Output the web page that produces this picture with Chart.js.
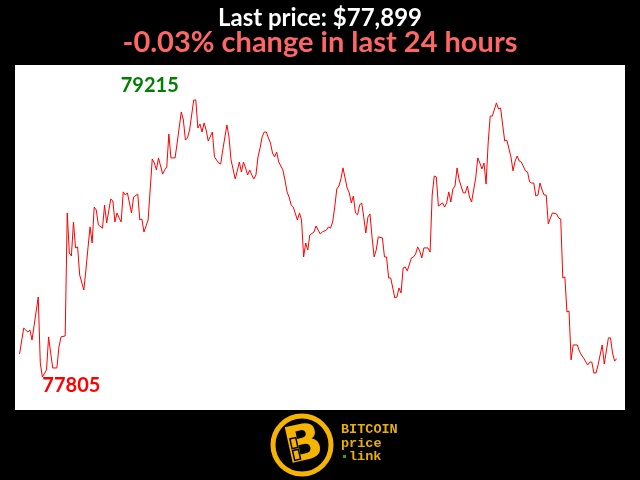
<!DOCTYPE html>
<html lang="en">
<head>
    <meta charset="UTF-8">
    <title>Bitcoin Price 24h</title>
    <script src="https://cdn.jsdelivr.net/npm/chart.js"></script>
    <style>
        body { margin: 0; background: #000; }
        canvas { display: block; }
    </style>
</head>
<body>
    <canvas id="priceChart" width="640" height="480"></canvas>

    <script>
        // 24 hour price history: minutes since start and price in USD
        const minutes = [
            0, 10, 15, 20, 25, 30, 45, 50, 55, 65, 70, 75, 80, 90, 95, 100, 110, 115, 120, 125,
            130, 135, 140, 145, 155, 160, 165, 170, 175, 180, 185, 190, 200, 205, 210, 220, 225, 230, 235, 240,
            245, 250, 255, 260, 270, 275, 285, 290, 295, 300, 310, 320, 325, 330, 335, 345, 350, 355, 360, 365,
            375, 380, 390, 395, 400, 405, 410, 420, 425, 430, 435, 440, 445, 450, 455, 465, 470, 480, 485, 490,
            500, 505, 510, 520, 525, 530, 535, 540, 545, 550, 555, 560, 565, 570, 575, 580, 585, 590, 595, 600,
            605, 610, 615, 620, 625, 635, 640, 645, 650, 655, 660, 670, 675, 680, 685, 690, 695, 700, 710, 715,
            720, 725, 730, 740, 745, 750, 755, 760, 765, 770, 775, 780, 785, 790, 795, 800, 805, 810, 815, 820,
            825, 830, 835, 840, 845, 850, 855, 860, 865, 875, 880, 885, 890, 895, 905, 910, 915, 920, 925, 930,
            935, 945, 950, 955, 960, 965, 970, 975, 985, 990, 995, 1000, 1005, 1010, 1020, 1025, 1030, 1035, 1040, 1045,
            1050, 1055, 1060, 1070, 1075, 1080, 1085, 1090, 1100, 1105, 1110, 1115, 1120, 1125, 1130, 1135, 1140, 1150, 1155, 1160,
            1165, 1170, 1175, 1185, 1190, 1195, 1200, 1205, 1210, 1220, 1225, 1230, 1235, 1240, 1245, 1250, 1255, 1260, 1265, 1270,
            1275, 1280, 1285, 1295, 1300, 1305, 1310, 1315, 1320, 1325, 1330, 1335, 1345, 1350, 1355, 1360, 1370, 1375, 1380, 1385,
            1390, 1395, 1405, 1410, 1420, 1425, 1430, 1435, 1440
        ];
        const prices = [
            77922, 78054, 78044, 78034, 78044, 77993, 78212, 77876, 77805, 77841, 78009, 77927, 77851, 77851, 77958, 78009, 78014, 78640, 78436, 78421,
            78594, 78462, 78467, 78324, 78248, 78350, 78462, 78569, 78487, 78670, 78655, 78579, 78563, 78680, 78589, 78711, 78701, 78594, 78640, 78614,
            78594, 78747, 78731, 78742, 78640, 78721, 78736, 78604, 78609, 78543, 78604, 78915, 78894, 78859, 78920, 78838, 78859, 78874, 79042, 78920,
            78920, 78996, 79154, 79113, 79011, 79022, 79062, 79215, 79215, 79072, 79093, 79052, 79098, 79062, 79006, 79052, 78925, 78894, 78889, 78960,
            79088, 79027, 78910, 78813, 78854, 78899, 78848, 78899, 78869, 78833, 78859, 78833, 78813, 78833, 78925, 78971, 79027, 79052, 79052, 79022,
            78996, 78945, 78925, 78950, 78899, 78859, 78808, 78747, 78721, 78680, 78670, 78604, 78640, 78604, 78416, 78487, 78451, 78528, 78543, 78574,
            78553, 78533, 78543, 78553, 78569, 78563, 78594, 78670, 78762, 78777, 78813, 78869, 78818, 78767, 78742, 78691, 78726, 78640, 78630, 78680,
            78691, 78619, 78538, 78619, 78635, 78518, 78416, 78451, 78518, 78513, 78416, 78416, 78309, 78309, 78207, 78212, 78258, 78233, 78360, 78365,
            78345, 78411, 78416, 78431, 78467, 78446, 78411, 78462, 78462, 78441, 78731, 78828, 78823, 78675, 78691, 78670, 78691, 78747, 78696, 78762,
            78777, 78869, 78808, 78742, 78742, 78777, 78721, 78696, 78818, 78920, 78894, 78864, 78894, 78787, 78996, 79133, 79133, 79200, 79169, 79174,
            79088, 79006, 79011, 78925, 78854, 78904, 78930, 78904, 78899, 78854, 78848, 78798, 78792, 78792, 78726, 78731, 78792, 78757, 78731, 78731,
            78584, 78614, 78640, 78635, 78614, 78609, 78309, 78314, 78136, 78141, 77892, 77968, 77968, 77937, 77917, 77902, 77866, 77881, 77881, 77825,
            77825, 77866, 77968, 77871, 78004, 78004, 77927, 77886, 77899
        ];
        const titleText = 'Last price: $77,899';
        const subtitleText = '-0.03% change in last 24 hours';

        const maxIndex = prices.indexOf(Math.max(...prices));
        const minIndex = prices.indexOf(Math.min(...prices));

        // black page, white plot box, high/low labels and the logo
        const decorPlugin = {
            id: 'decor',
            beforeDraw(chart) {
                const ctx = chart.ctx;
                const area = chart.chartArea;
                ctx.save();
                ctx.fillStyle = '#000';
                ctx.fillRect(0, 0, chart.width, chart.height);
                ctx.fillStyle = '#fff';
                ctx.fillRect(area.left, area.top, area.right - area.left, area.bottom - area.top);
                ctx.restore();
            },
            afterDatasetsDraw(chart) {
                const ctx = chart.ctx;
                const xs = chart.scales.x;
                const ys = chart.scales.y;
                ctx.save();
                ctx.font = 'bold 20px Lato';
                ctx.textBaseline = 'alphabetic';

                // high
                const hx = xs.getPixelForValue(minutes[maxIndex]);
                const hy = ys.getPixelForValue(prices[maxIndex]);
                ctx.fillStyle = '#008000';
                ctx.textAlign = 'right';
                ctx.fillText(String(prices[maxIndex]), hx - 15, hy - 8);

                // low
                const lx = xs.getPixelForValue(minutes[minIndex]);
                const ly = ys.getPixelForValue(prices[minIndex]);
                ctx.fillStyle = '#ff0000';
                ctx.textAlign = 'left';
                ctx.fillText(String(prices[minIndex]), lx, ly + 15);
                ctx.restore();
            },
            afterDraw(chart) {
                const ctx = chart.ctx;
                const gold = '#f4b400';
                ctx.save();
                // coin
                ctx.strokeStyle = gold;
                ctx.lineWidth = 5;
                ctx.beginPath();
                ctx.arc(302, 445, 29, 0, Math.PI * 2);
                ctx.stroke();
                ctx.translate(304, 447);
                ctx.rotate(-0.22);
                ctx.fillStyle = gold;
                ctx.font = 'bold 50px "DejaVu Sans"';
                ctx.textAlign = 'center';
                ctx.textBaseline = 'middle';
                ctx.fillText('B', 0, 0);
                // chain link on the stem
                ctx.strokeStyle = '#000';
                ctx.lineWidth = 1.5;
                ctx.strokeRect(-12, -11, 6, 10);
                ctx.strokeRect(-12, 1, 6, 10);
                ctx.restore();

                // wordmark
                ctx.save();
                ctx.fillStyle = '#e8b000';
                ctx.font = 'bold 13.5px "Liberation Mono"';
                ctx.textAlign = 'left';
                ctx.textBaseline = 'alphabetic';
                ctx.fillText('BITCOIN', 341, 433);
                ctx.fillText('price', 341, 446.5);
                ctx.fillText('link', 349, 460);
                ctx.fillStyle = '#2e9e2e';
                ctx.fillRect(343, 455, 3, 3);
                ctx.restore();
            }
        };

        const ctx = document.getElementById('priceChart').getContext('2d');
        const chart = new Chart(ctx, {
            type: 'line',
            data: {
                datasets: [{
                    label: 'BTC',
                    data: minutes.map((m, i) => ({ x: m, y: prices[i] })),
                    borderColor: '#ff0000',
                    borderWidth: 1,
                    pointRadius: 0,
                    tension: 0,
                    fill: false
                }]
            },
            options: {
                responsive: false,
                animation: false,
                layout: {
                    padding: { top: 0, left: 15, right: 15, bottom: 70 }
                },
                plugins: {
                    legend: { display: false },
                    tooltip: { enabled: false },
                    title: {
                        display: true,
                        text: titleText,
                        color: '#ffffff',
                        font: { family: 'Lato', size: 24, weight: 'bold', lineHeight: 1.2 },
                        padding: { top: 4, bottom: 0 }
                    },
                    subtitle: {
                        display: true,
                        text: subtitleText,
                        color: '#ff6666',
                        font: { family: 'Lato', size: 29, weight: 'bold', lineHeight: 0.6 },
                        padding: { top: 1, bottom: 13.8 }
                    }
                },
                scales: {
                    x: { type: 'linear', min: -11, max: 1460, display: false },
                    y: { min: 77637, max: 79393, display: false }
                }
            },
            plugins: [decorPlugin]
        });
    </script>
</body>
</html>
